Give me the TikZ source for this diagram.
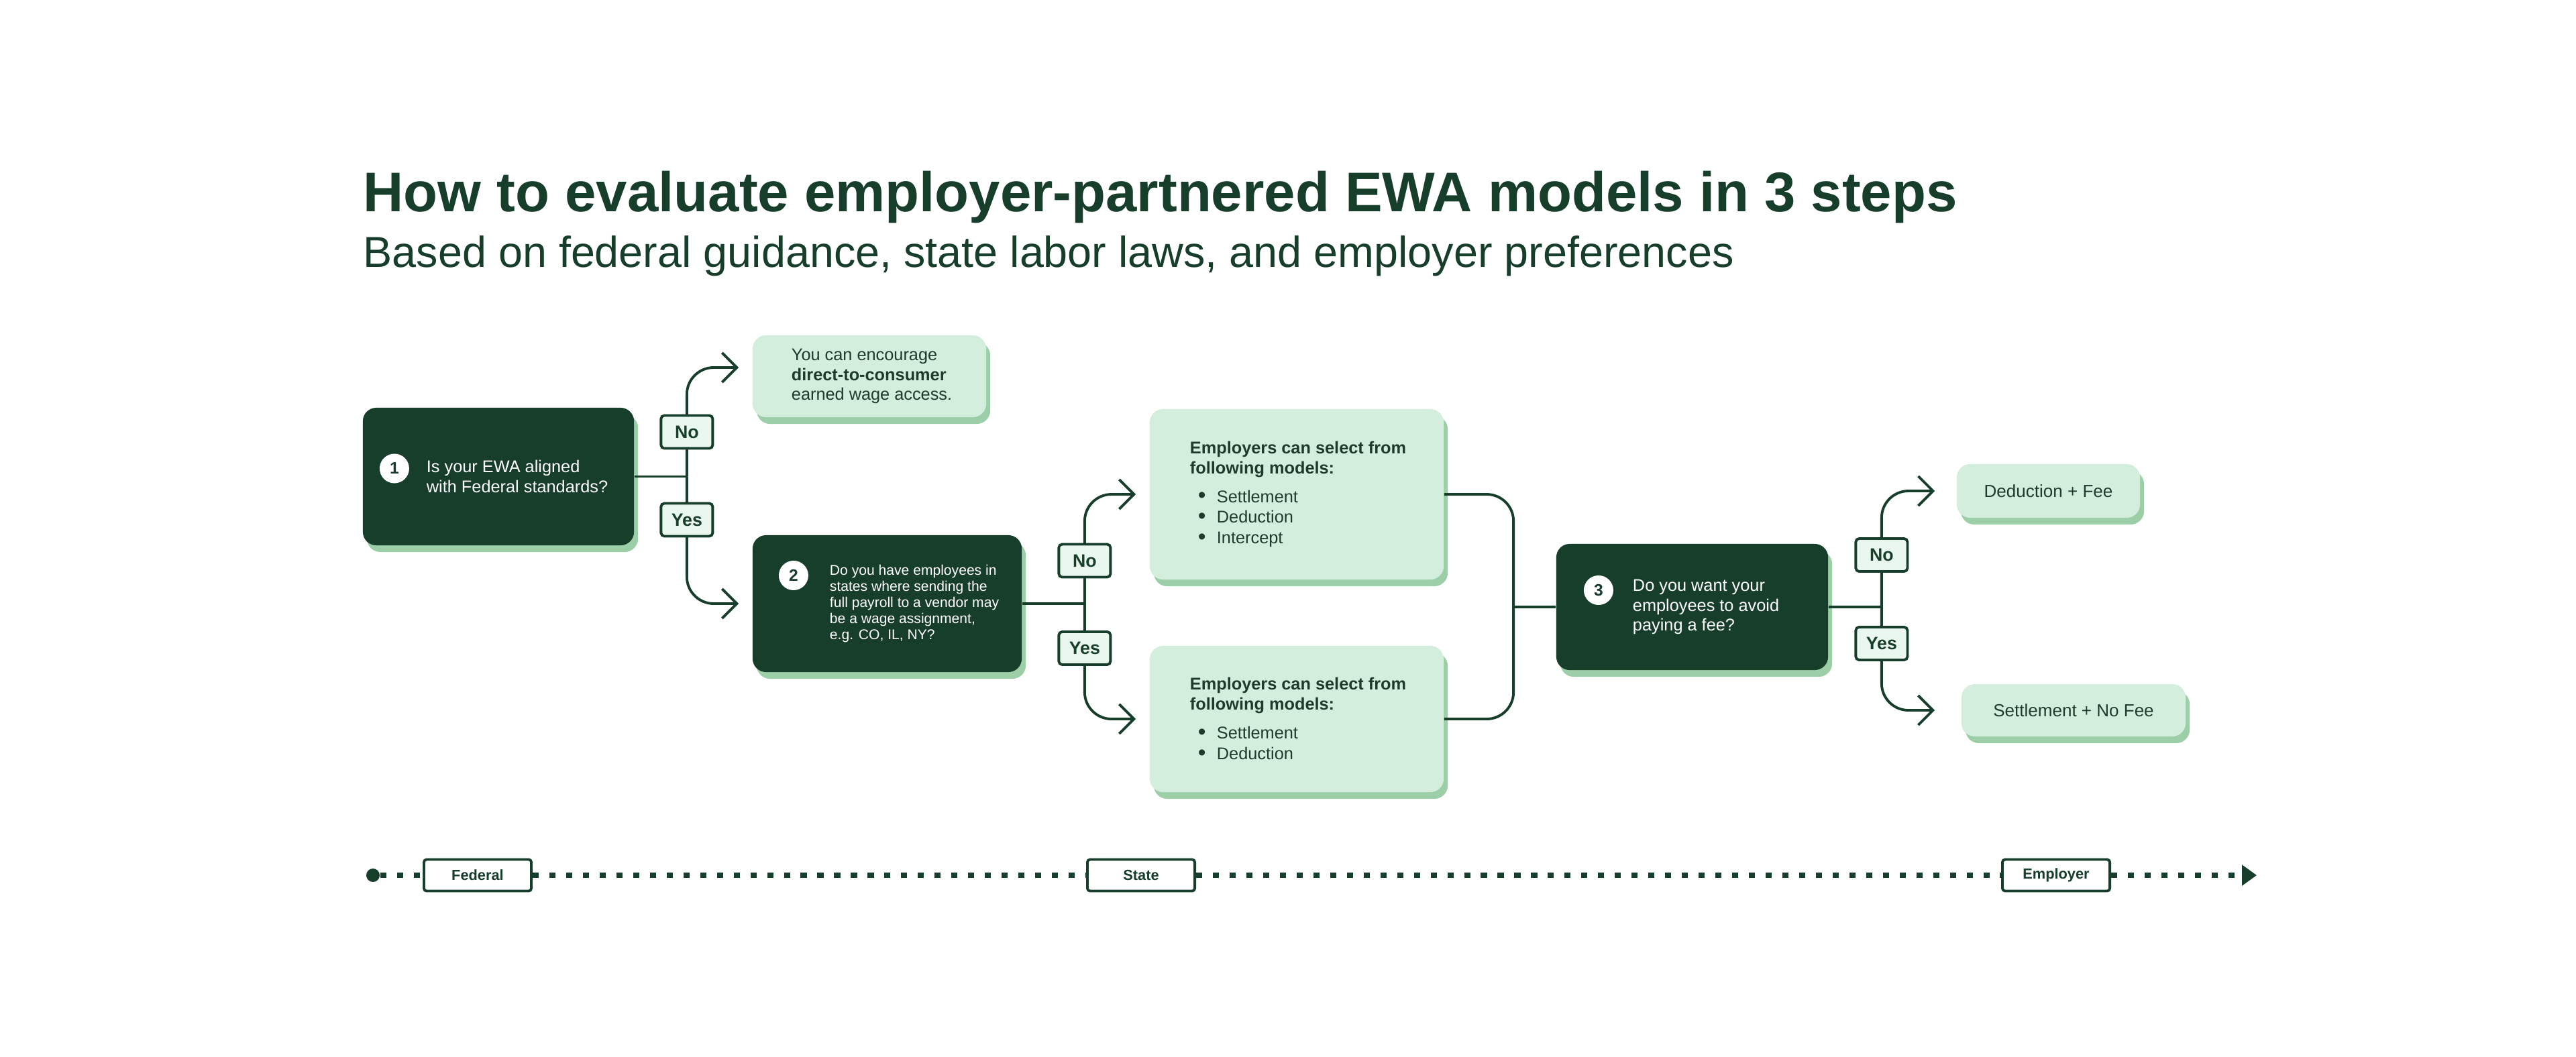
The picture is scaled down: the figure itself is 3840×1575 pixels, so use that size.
\documentclass[tikz,border=0pt]{standalone}
\usepackage{fontspec}
\setmainfont{Liberation Sans}
\usepackage{xcolor}
\usepackage{tikz}
\usetikzlibrary{arrows.meta, positioning, shadows}

\definecolor{ewadark}{HTML}{173D2B}
\definecolor{ewamint}{HTML}{D4EEDD}
\definecolor{ewashade}{HTML}{9CCEA8}
\definecolor{ewapale}{HTML}{EAF7EE}
\definecolor{ewatext}{HTML}{1E3A2C}

\newcommand{\fs}[2]{\fontsize{#1}{#2}\selectfont}
\newcommand{\bitem}[1]{\makebox[0.4cm][l]{\hspace{0.12cm}\raisebox{-0.2pt}{\fs{9.5pt}{9.5pt}\textbullet}}#1}

\begin{document}
\begin{tikzpicture}[
    x=0.01cm, y=-0.01cm,
    font=\fs{7.2pt}{8.5pt},
    card/.style={rounded corners=0.2cm, inner sep=0pt, general shadow={fill=ewashade, shadow xshift=0.06cm, shadow yshift=-0.1cm}},
    qbox/.style={card, fill=ewadark},
    abox/.style={card, fill=ewamint, text=ewatext},
    qtext/.style={align=left, inner sep=0pt, text=white},
    atext/.style={align=left, inner sep=0pt, text=ewatext},
    num/.style={circle, fill=white, minimum size=0.44cm, inner sep=0pt, text=ewadark, font=\fs{7pt}{8pt}\bfseries},
    choice/.style={draw=ewadark, line width=1.1pt, fill=ewapale, rounded corners=0.05cm, minimum width=0.77cm, minimum height=0.49cm, inner sep=0pt, text=ewadark, font=\fs{7.6pt}{9pt}\bfseries},
    stage/.style={draw=ewadark, line width=1.1pt, fill=white, rounded corners=0.04cm, minimum width=1.6cm, minimum height=0.47cm, inner sep=0pt, text=ewadark, font=\fs{6.2pt}{7pt}\bfseries},
    dot/.style={circle, fill=ewadark, minimum size=0.2cm, inner sep=0pt},
    link/.style={draw=ewadark, line width=1.1pt, rounded corners=0.4cm},
    arr/.style={link, -{Straight Barb[length=0.22cm, width=0.44cm]}, shorten >=0.2cm},
    timeline/.style={draw=ewadark, line width=2.5pt, dash pattern=on 2.6pt off 4.5pt, -{Triangle[length=0.22cm, width=0.3cm]}}
]
\path[use as bounding box, fill=white] (0,0) rectangle (3840,1575);

% Heading
\node[anchor=base west, inner sep=0pt, text=ewadark, font=\fs{23.7pt}{28pt}\bfseries] (title) at (541,315) {How to evaluate employer-partnered EWA models in 3 steps};
\node[anchor=base west, inner sep=0pt, text=ewadark, font=\fs{18.4pt}{22pt}] (subtitle) at (541,398) {Based on federal guidance, state labor laws, and employer preferences};

% 1. Federal question
\node[qbox, minimum width=4.04cm, minimum height=2.05cm] (q1) at (743,710.5) {};
\node[num, right=0.25cm of q1.west, yshift=0.12cm] (n1) {1};
\node[qtext, right=0.95cm of q1.west] (t1) {Is your EWA aligned\\with Federal standards?};

\node[abox, minimum width=3.48cm, minimum height=1.22cm] (enc) at (1296,561) {};
\node[atext, right=0.58cm of enc.west] (tenc) {You can encourage\\\textbf{direct-to-consumer}\\earned wage access.};

% 2. State question
\node[qbox, minimum width=4.01cm, minimum height=2.04cm] (q2) at (1322.5,900) {};
\node[num, right=0.39cm of q2.west, yshift=0.42cm] (n2) {2};
\node[qtext, font=\fs{6pt}{6.83pt}, right=1.15cm of q2.west] (t2) {Do you have employees in\\states where sending the\\full payroll to a vendor may\\be a wage assignment,\\e.g. CO, IL, NY?};

\node[abox, minimum width=4.38cm, minimum height=2.54cm] (optA) at (1933,737) {};
\node[atext, right=0.6cm of optA.west] (tA) {\textbf{Employers can select from}\\\textbf{following models:}\\[3.7pt]\bitem{Settlement}\\[0.3pt]\bitem{Deduction}\\[0.3pt]\bitem{Intercept}};

\node[abox, minimum width=4.38cm, minimum height=2.18cm] (optB) at (1933,1072) {};
\node[atext, right=0.6cm of optB.west] (tB) {\textbf{Employers can select from}\\\textbf{following models:}\\[3.7pt]\bitem{Settlement}\\[0.3pt]\bitem{Deduction}};

% 3. Employer question
\node[qbox, minimum width=4.05cm, minimum height=1.88cm] (q3) at (2522.5,905) {};
\node[num, right=0.41cm of q3.west, yshift=0.25cm] (n3) {3};
\node[qtext, right=1.14cm of q3.west] (t3) {Do you want your\\employees to avoid\\paying a fee?};

\node[abox, minimum width=2.73cm, minimum height=0.8cm, font=\fs{7.4pt}{9pt}] (res1) at (3053.5,732) {Deduction + Fee};
\node[abox, minimum width=3.34cm, minimum height=0.78cm, font=\fs{7.4pt}{9pt}] (res2) at (3091,1059) {Settlement + No Fee};

% Junctions
\coordinate[right=0.78cm of q1] (j1);
\coordinate[right=0.93cm of q2] (j2);
\coordinate[left=0.63cm of q3] (jm);
\coordinate[right=0.79cm of q3] (j3);

% Connectors
\draw[link] (q1) -- (j1);
\draw[arr] (j1) |- ([yshift=0.13cm]enc.west);
\draw[arr] (j1) |- (q2);

\draw[link] (q2) -- (j2);
\draw[arr] (j2) |- (optA);
\draw[arr] (j2) |- (optB);

\draw[link] (optA) -| (jm);
\draw[link] (optB) -| (jm);
\draw[link] (jm) -- (q3);

\draw[link] (q3) -- (j3);
\draw[arr, shorten >=0.32cm] (j3) |- (res1);
\draw[arr, shorten >=0.39cm] (j3) |- (res2);

% Answer tags
\node[choice, above=0.4cm of j1] (no1) {No};
\node[choice, below=0.38cm of j1] (yes1) {Yes};
\node[choice, above=0.375cm of j2] (no2) {No};
\node[choice, below=0.4cm of j2] (yes2) {Yes};
\node[choice, above=0.51cm of j3] (no3) {No};
\node[choice, below=0.28cm of j3] (yes3) {Yes};

% Timeline
\node[dot] (tl0) at (556,1305) {};
\node[stage] (fed) at (712,1305) {Federal};
\node[stage] (state) at (1701,1305) {State};
\node[stage] (emp) at (3065,1305) {Employer};
\coordinate (tl1) at (3364,1305);
\draw[timeline] (tl0) -- (fed) -- (state) -- (emp) -- (tl1);

\end{tikzpicture}
\end{document}
